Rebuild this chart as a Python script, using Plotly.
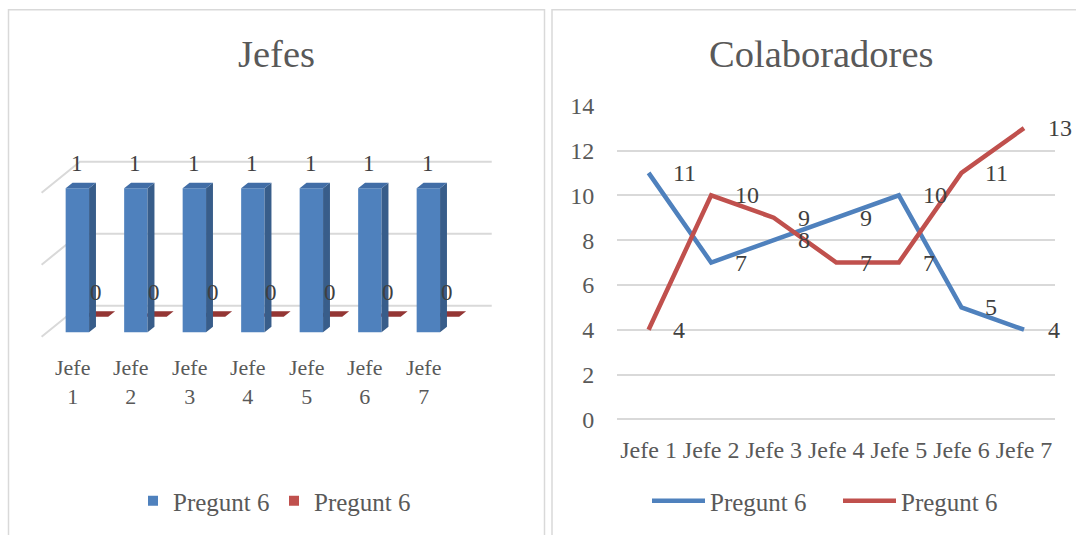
import plotly.graph_objects as go

# ---- data ----
categories = ["Jefe 1", "Jefe 2", "Jefe 3", "Jefe 4", "Jefe 5", "Jefe 6", "Jefe 7"]
jefes_a = [1, 1, 1, 1, 1, 1, 1]
jefes_b = [0, 0, 0, 0, 0, 0, 0]
colab_a = [11, 7, 8, 9, 10, 5, 4]
colab_b = [4, 10, 9, 7, 7, 11, 13]
series_names = ["Pregunt 6", "Pregunt 6"]
jefes_grid = [0, 0.5, 1]
colab_ticks = [0, 2, 4, 6, 8, 10, 12, 14]

# ---- styling ----
W, H = 1076, 535
FONT = "Liberation Serif"
GRID = "#d9d9d9"
TXT = "#595959"
LBL = "#404040"
BLUE, RED = "#4f81bd", "#c0504d"
BLUE_TOP, BLUE_SIDE = "#416da6", "#385d8a"
RED_TOP = "#943634"

# oblique projection for the 3D column panel
PX_PER_CAT, PX_PER_VAL = 58.5, 144.0
DX, DY = 0.655, 0.2153          # shift of one full floor depth (category / value units)
FLOOR = (-0.52, len(categories) - 0.48)
HALF_W = 0.2
DEPTH_A = (0.14, 0.32)
DEPTH_B = (0.64, 0.82)


def proj(c, v, z):
    return c + z * DX, v + z * DY


def faces(c, v, z0, z1):
    c0, c1 = c - HALF_W, c + HALF_W
    front = [proj(c0, 0, z0), proj(c1, 0, z0), proj(c1, v, z0), proj(c0, v, z0)]
    side = [proj(c1, 0, z0), proj(c1, 0, z1), proj(c1, v, z1), proj(c1, v, z0)]
    top = [proj(c0, v, z0), proj(c1, v, z0), proj(c1, v, z1), proj(c0, v, z1)]
    return front, side, top


def poly_trace(polys, color):
    xs, ys = [], []
    for p in polys:
        for x, y in p + [p[0]]:
            xs.append(x)
            ys.append(y)
        xs.append(None)
        ys.append(None)
    return go.Scatter(x=xs, y=ys, mode="lines", fill="toself", fillcolor=color,
                      line=dict(width=0, color=color), hoverinfo="skip",
                      showlegend=False, xaxis="x", yaxis="y")


fig = go.Figure()

# walls: side wall diagonals and back wall lines
gx, gy = [], []
for g in jefes_grid:
    for z in (0, 1):
        x, y = proj(FLOOR[0], g, z)
        gx.append(x); gy.append(y)
    x, y = proj(FLOOR[1], g, 1)
    gx.append(x); gy.append(y)
    gx.append(None); gy.append(None)
fig.add_trace(go.Scatter(x=gx, y=gy, mode="lines", line=dict(color=GRID, width=2),
                         hoverinfo="skip", showlegend=False, xaxis="x", yaxis="y"))

# back series first, then front series
for vals, depth, cols in ((jefes_b, DEPTH_B, (RED, RED_TOP, RED_TOP)),
                          (jefes_a, DEPTH_A, (BLUE, BLUE_SIDE, BLUE_TOP))):
    fr, sd, tp = [], [], []
    for i, v in enumerate(vals):
        f, s, t = faces(i, v, *depth)
        if v > 0:
            fr.append(f)
            sd.append(s)
        tp.append(t)
    if fr:
        fig.add_trace(poly_trace(fr, cols[0]))
        fig.add_trace(poly_trace(sd, cols[1]))
    fig.add_trace(poly_trace(tp, cols[2]))

annotations = []
for vals, depth in ((jefes_a, DEPTH_A), (jefes_b, DEPTH_B)):
    zc = sum(depth) / 2
    for i, v in enumerate(vals):
        x, y = proj(i, v, zc)
        annotations.append(dict(x=x, y=y, xref="x", yref="y", text=str(v),
                                showarrow=False, xshift=-4, yshift=22,
                                xanchor="center", yanchor="middle",
                                font=dict(size=23, color=LBL, family=FONT)))
for i, name in enumerate(categories):
    annotations.append(dict(x=i, y=0, xref="x", yref="y",
                            text=name.replace(" ", "<br>"), showarrow=False,
                            xanchor="center", yanchor="middle", yshift=-45,
                            font=dict(size=22, color=TXT, family=FONT)))

# legend entries for the 3D panel
for name, col in zip(series_names, (BLUE, RED)):
    fig.add_trace(go.Scatter(x=[None], y=[None], mode="markers", name=name,
                             marker=dict(symbol="square", size=10, color=col),
                             legend="legend", xaxis="x", yaxis="y"))

# ---- line panel ----
for name, vals, col in ((series_names[0], colab_a, BLUE), (series_names[1], colab_b, RED)):
    fig.add_trace(go.Scatter(x=list(range(len(categories))), y=vals, mode="lines",
                             name=name, line=dict(color=col, width=4.5),
                             legend="legend2", xaxis="x2", yaxis="y2",
                             hoverinfo="x+y"))
    for i, v in enumerate(vals):
        annotations.append(dict(x=i, y=v, xref="x2", yref="y2", text=str(v),
                                showarrow=False, xanchor="left", yanchor="middle",
                                xshift=22, font=dict(size=24, color=LBL, family=FONT)))

# titles
for cx, title in ((276, "Jefes"), (821, "Colaboradores")):
    annotations.append(dict(x=cx / W, y=1 - 54 / H, xref="paper", yref="paper",
                            text=title, showarrow=False, xanchor="center",
                            yanchor="middle",
                            font=dict(size=38.5, color=TXT, family=FONT)))

# panel frames
shapes = [
    dict(type="rect", xref="paper", yref="paper", x0=8.5 / W, x1=544.5 / W,
         y0=-0.2, y1=1 - 9.7 / H, line=dict(color=GRID, width=1.5)),
    dict(type="rect", xref="paper", yref="paper", x0=552 / W, x1=1.2,
         y0=-0.2, y1=1 - 9.7 / H, line=dict(color=GRID, width=1.5)),
]

left_px = 540
x0_px = 72
y0_px = 336.7
plot_l, plot_r = 617.3, 1055.3
plot_t, plot_b = 105.7, 419.3

fig.update_layout(
    width=W, height=H,
    margin=dict(l=0, r=0, t=0, b=0, pad=0, autoexpand=False),
    paper_bgcolor="white", plot_bgcolor="rgba(0,0,0,0)",
    font=dict(family=FONT, color=TXT, size=24),
    xaxis=dict(domain=[0, left_px / W],
               range=[-x0_px / PX_PER_CAT, (left_px - x0_px) / PX_PER_CAT],
               visible=False, fixedrange=True),
    yaxis=dict(domain=[0, 1], range=[(y0_px - H) / PX_PER_VAL, y0_px / PX_PER_VAL],
               visible=False, fixedrange=True),
    xaxis2=dict(domain=[plot_l / W, plot_r / W], range=[-0.5, len(categories) - 0.5],
                tickvals=list(range(len(categories))), ticktext=categories,
                showgrid=False, zeroline=False, showline=False, ticks="",
                ticklabelstandoff=14, tickfont=dict(size=24, color=TXT, family=FONT),
                anchor="y2", automargin=False),
    yaxis2=dict(domain=[1 - plot_b / H, 1 - plot_t / H], range=[0, 14],
                tickvals=colab_ticks, showgrid=True, gridcolor=GRID, gridwidth=1.5,
                zeroline=True, zerolinecolor=GRID, zerolinewidth=1.5, showline=False,
                ticks="", ticklabelstandoff=22,
                tickfont=dict(size=24, color=TXT, family=FONT), anchor="x2",
                automargin=False),
    legend=dict(orientation="h", x=133 / W, y=1 - 501 / H, xanchor="left",
                yanchor="middle", font=dict(size=25, color=TXT, family=FONT),
                bgcolor="rgba(0,0,0,0)", itemwidth=30, entrywidth=96,
                entrywidthmode="pixels"),
    legend2=dict(orientation="h", x=647 / W, y=1 - 501 / H, xanchor="left",
                 yanchor="middle", font=dict(size=25, color=TXT, family=FONT),
                 bgcolor="rgba(0,0,0,0)", itemwidth=53, entrywidth=123,
                 entrywidthmode="pixels"),
    annotations=annotations,
    shapes=shapes,
)

fig.write_html("out.html")
